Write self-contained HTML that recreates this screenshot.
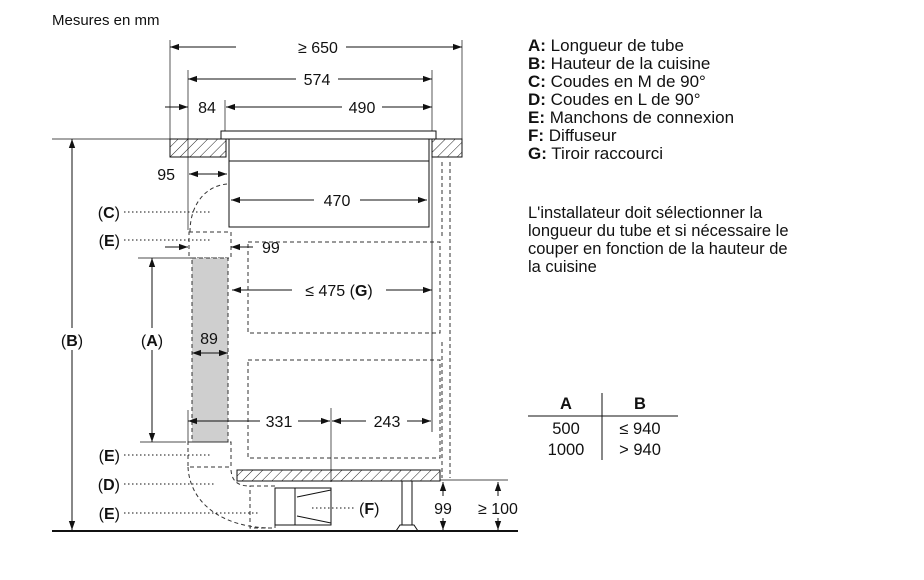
<!DOCTYPE html>
<html><head><meta charset="utf-8"><style>
html,body{margin:0;padding:0;background:#fff;}
svg{display:block;font-family:"Liberation Sans",Arial,sans-serif;}
</style></head><body>
<svg width="924" height="580" viewBox="0 0 924 580" xmlns="http://www.w3.org/2000/svg">
<defs>
<pattern id="h" width="7" height="7" patternUnits="userSpaceOnUse" patternTransform="rotate(45)">
<rect width="7" height="7" fill="#fff"/><line x1="0" y1="0" x2="0" y2="7" stroke="#222" stroke-width="1"/></pattern>
<marker id="a" viewBox="0 0 10 10" refX="10" refY="5" markerWidth="9" markerHeight="9" markerUnits="userSpaceOnUse" orient="auto-start-reverse"><path d="M0,1.5 L10,5 L0,8.5z" fill="#111"/></marker>
</defs>
<text x="52" y="25" font-size="15" fill="#111">Mesures en mm</text>
<rect x="170" y="139" width="56" height="18" fill="url(#h)" stroke="#111"/>
<rect x="432" y="139" width="30" height="18" fill="url(#h)" stroke="#111"/>
<rect x="221" y="131" width="215" height="8" fill="#fff" stroke="#111"/>
<rect x="229" y="139" width="200" height="88" fill="#fff" stroke="#111"/>
<line x1="229" y1="161" x2="429" y2="161" stroke="#111"/>
<g stroke="#333" stroke-width="1" fill="none" stroke-dasharray="4,3">
<path d="M227,184 C205,186 190,205 190,232"/>
<rect x="189" y="232" width="42" height="26"/>
<rect x="192" y="258" width="36" height="184" fill="#cfcfcf"/>
<rect x="248" y="242" width="192" height="91"/>
<rect x="248" y="360" width="192" height="98"/>
<line x1="442" y1="162" x2="442" y2="238"/>
<line x1="450" y1="162" x2="450" y2="478"/>
<line x1="442" y1="342" x2="442" y2="478"/>
<rect x="188" y="442" width="43" height="25"/>
<path d="M188,467 C190,505 225,528 272,528"/>
<path d="M231,470 C232,483 240,486 250,486"/>
<rect x="250" y="486" width="25" height="42"/>
</g>
<rect x="237" y="470" width="203" height="11" fill="url(#h)" stroke="#111"/>
<g stroke="#111" fill="#fff">
<rect x="275" y="488" width="56" height="37"/>
<line x1="295" y1="488" x2="295" y2="525"/>
<line x1="297" y1="497" x2="331" y2="490"/>
<line x1="297" y1="516" x2="331" y2="523"/>
<rect x="402" y="481" width="10" height="44"/>
<path d="M396,531 L400,525 L414,525 L418,531z"/>
</g>
<g stroke="#111" stroke-width="1" fill="none">
<line x1="170" y1="40" x2="170" y2="139" stroke-width="0.7"/>
<line x1="462" y1="40" x2="462" y2="139" stroke-width="0.7"/>
<line x1="188" y1="70" x2="188" y2="230" stroke-width="0.7"/>
<line x1="432" y1="70" x2="432" y2="131" stroke-width="0.7"/>
<line x1="225" y1="100" x2="225" y2="131" stroke-width="0.7"/>
<line x1="170" y1="47" x2="236" y2="47" marker-start="url(#a)"/>
<line x1="346" y1="47" x2="462" y2="47" marker-end="url(#a)"/>
<line x1="188" y1="79" x2="296" y2="79" marker-start="url(#a)"/>
<line x1="338" y1="79" x2="432" y2="79" marker-end="url(#a)"/>
<line x1="165" y1="107" x2="188" y2="107" marker-end="url(#a)"/>
<line x1="226" y1="107" x2="342" y2="107" marker-start="url(#a)"/>
<line x1="382" y1="107" x2="432" y2="107" marker-end="url(#a)"/>
<line x1="189" y1="174" x2="227" y2="174" marker-start="url(#a)" marker-end="url(#a)"/>
<line x1="231" y1="200" x2="314" y2="200" marker-start="url(#a)"/>
<line x1="360" y1="200" x2="427" y2="200" marker-end="url(#a)"/>
<line x1="165" y1="247" x2="188" y2="247" marker-end="url(#a)"/>
<line x1="253" y1="247" x2="231" y2="247" marker-end="url(#a)"/>
<line x1="232" y1="290" x2="292" y2="290" marker-start="url(#a)"/>
<line x1="386" y1="290" x2="432" y2="290" marker-end="url(#a)"/>
<line x1="192" y1="353" x2="228" y2="353" marker-start="url(#a)" marker-end="url(#a)"/>
<line x1="188" y1="421" x2="260" y2="421" marker-start="url(#a)"/>
<line x1="298" y1="421" x2="330" y2="421" marker-end="url(#a)"/>
<line x1="332" y1="421" x2="366" y2="421" marker-start="url(#a)"/>
<line x1="407" y1="421" x2="431" y2="421" marker-end="url(#a)"/>
<line x1="331" y1="408" x2="331" y2="482" stroke-width="0.7"/>
<line x1="188" y1="410" x2="188" y2="442" stroke-width="0.7"/>
<line x1="432" y1="157" x2="432" y2="432" stroke-width="0.8"/>
<line x1="138" y1="258" x2="190" y2="258" stroke-width="0.7"/>
<line x1="140" y1="442" x2="186" y2="442" stroke-width="0.7"/>
<line x1="152" y1="258" x2="152" y2="328" marker-start="url(#a)"/>
<line x1="152" y1="350" x2="152" y2="442" marker-end="url(#a)"/>
<line x1="52" y1="139" x2="170" y2="139" stroke-width="0.7"/>
<line x1="72" y1="139" x2="72" y2="328" marker-start="url(#a)"/>
<line x1="72" y1="350" x2="72" y2="530" marker-end="url(#a)"/>
<line x1="52" y1="531" x2="518" y2="531" stroke-width="2"/>
<line x1="440" y1="480" x2="508" y2="480" stroke-width="0.7"/>
<line x1="443" y1="482" x2="443" y2="496" marker-start="url(#a)"/>
<line x1="443" y1="518" x2="443" y2="530" marker-end="url(#a)"/>
<line x1="498" y1="482" x2="498" y2="496" marker-start="url(#a)"/>
<line x1="498" y1="518" x2="498" y2="530" marker-end="url(#a)"/>
</g>
<g stroke="#111" stroke-dasharray="1.5,2.5" stroke-width="1">
<line x1="124" y1="212" x2="210" y2="212"/>
<line x1="124" y1="240" x2="210" y2="240"/>
<line x1="124" y1="455" x2="210" y2="455"/>
<line x1="124" y1="484" x2="214" y2="484"/>
<line x1="124" y1="513" x2="260" y2="513"/>
<line x1="312" y1="508" x2="355" y2="508"/>
</g>
<g font-size="16" fill="#111">
<text x="318" y="53" text-anchor="middle">≥ 650</text>
<text x="317" y="85" text-anchor="middle">574</text>
<text x="207" y="113" text-anchor="middle">84</text>
<text x="362" y="113" text-anchor="middle">490</text>
<text x="175" y="180" text-anchor="end">95</text>
<text x="337" y="206" text-anchor="middle">470</text>
<text x="262" y="253">99</text>
<text x="339" y="296" text-anchor="middle">≤ 475 (<tspan font-weight="bold">G</tspan>)</text>
<text x="209" y="344" text-anchor="middle">89</text>
<text x="279" y="427" text-anchor="middle">331</text>
<text x="387" y="427" text-anchor="middle">243</text>
<text x="443" y="514" text-anchor="middle">99</text>
<text x="498" y="514" text-anchor="middle">≥ 100</text>
<text x="72" y="346" text-anchor="middle">(<tspan font-weight="bold">B</tspan>)</text>
<text x="152" y="346" text-anchor="middle">(<tspan font-weight="bold">A</tspan>)</text>
<text x="120" y="218" text-anchor="end">(<tspan font-weight="bold">C</tspan>)</text>
<text x="120" y="246" text-anchor="end">(<tspan font-weight="bold">E</tspan>)</text>
<text x="120" y="461" text-anchor="end">(<tspan font-weight="bold">E</tspan>)</text>
<text x="120" y="490" text-anchor="end">(<tspan font-weight="bold">D</tspan>)</text>
<text x="120" y="519" text-anchor="end">(<tspan font-weight="bold">E</tspan>)</text>
<text x="359" y="514">(<tspan font-weight="bold">F</tspan>)</text>
</g>
<g font-size="17" fill="#111">
<text x="528" y="51"><tspan font-weight="bold">A:</tspan> Longueur de tube</text>
<text x="528" y="69"><tspan font-weight="bold">B:</tspan> Hauteur de la cuisine</text>
<text x="528" y="87"><tspan font-weight="bold">C:</tspan> Coudes en M de 90°</text>
<text x="528" y="105"><tspan font-weight="bold">D:</tspan> Coudes en L de 90°</text>
<text x="528" y="123"><tspan font-weight="bold">E:</tspan> Manchons de connexion</text>
<text x="528" y="141"><tspan font-weight="bold">F:</tspan> Diffuseur</text>
<text x="528" y="159"><tspan font-weight="bold">G:</tspan> Tiroir raccourci</text>
</g>
<g font-size="16.5" fill="#111">
<text x="528" y="218">L'installateur doit sélectionner la</text>
<text x="528" y="236">longueur du tube et si nécessaire le</text>
<text x="528" y="254">couper en fonction de la hauteur de</text>
<text x="528" y="272">la cuisine</text>
<text x="566" y="409" text-anchor="middle" font-weight="bold">A</text>
<text x="640" y="409" text-anchor="middle" font-weight="bold">B</text>
<text x="566" y="434" text-anchor="middle">500</text>
<text x="640" y="434" text-anchor="middle">≤ 940</text>
<text x="566" y="455" text-anchor="middle">1000</text>
<text x="640" y="455" text-anchor="middle">&gt; 940</text>
</g>
<line x1="528" y1="416" x2="678" y2="416" stroke="#111"/>
<line x1="602" y1="393" x2="602" y2="460" stroke="#111"/>
</svg>
</body></html>
